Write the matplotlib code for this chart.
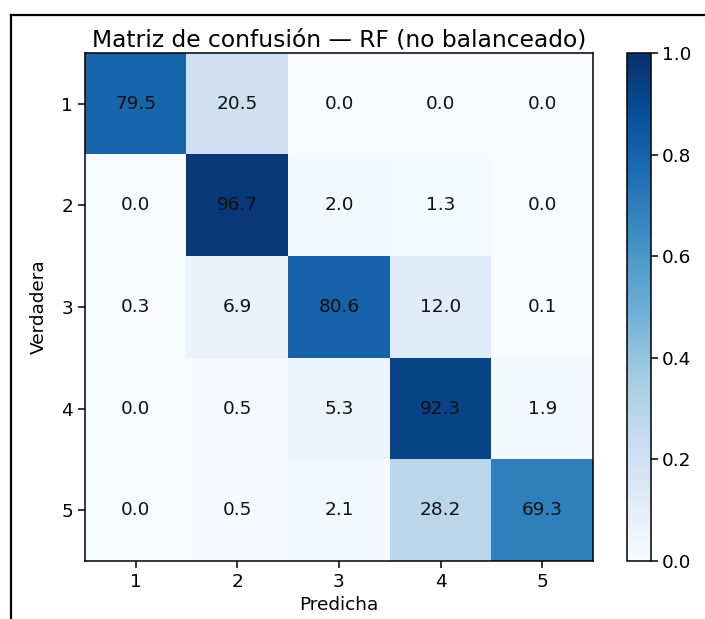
import numpy as np
import matplotlib
matplotlib.use("Agg")
import matplotlib.pyplot as plt
from matplotlib.lines import Line2D

# Row-normalised confusion matrix (percent), rows = true, cols = predicted
clases = ["1", "2", "3", "4", "5"]
fila_1 = [79.5, 20.5, 0.0, 0.0, 0.0]
fila_2 = [0.0, 96.7, 2.0, 1.3, 0.0]
fila_3 = [0.3, 6.9, 80.6, 12.0, 0.1]
fila_4 = [0.0, 0.5, 5.3, 92.3, 1.9]
fila_5 = [0.0, 0.5, 2.1, 28.2, 69.3]
cbar_ticks = [0.0, 0.2, 0.4, 0.6, 0.8, 1.0]

cm = np.array([fila_1, fila_2, fila_3, fila_4, fila_5]) / 100.0

fig = plt.figure(figsize=(7.05, 6.19), dpi=100)
ax = fig.add_axes([85 / 705, 1 - 561 / 619, 508 / 705, 508 / 619])
cax = fig.add_axes([627 / 705, 1 - 561 / 619, 24 / 705, 508 / 619])

im = ax.imshow(cm, cmap="Blues", vmin=0, vmax=1, aspect="auto")
cb = fig.colorbar(im, cax=cax, ticks=cbar_ticks)
cb.ax.tick_params(labelsize=13.3, width=1.1, length=5, pad=3)
cb.outline.set_linewidth(1.1)

for i in range(cm.shape[0]):
    for j in range(cm.shape[1]):
        ax.text(j, i, f"{cm[i, j] * 100:.1f}", ha="center", va="center",
                color="#111111", fontsize=13.3)

ax.set_xticks(range(len(clases)))
ax.set_xticklabels(clases)
ax.set_yticks(range(len(clases)))
ax.set_yticklabels(clases)
ax.tick_params(labelsize=13.3, width=1.1, length=5)
for s in ax.spines.values():
    s.set_linewidth(1.1)

ax.set_xlabel("Predicha", fontsize=13.3, labelpad=4)
ax.set_ylabel("Verdadera", fontsize=13.3, labelpad=10)
ax.set_title("Matriz de confusión — RF (no balanceado)", fontsize=16.8, pad=5)

# screenshot frame (left and top edges)
fig.add_artist(Line2D([11 / 705, 11 / 705], [0, 1 - 15 / 619], color="black", lw=1.6,
                      transform=fig.transFigure))
fig.add_artist(Line2D([11 / 705, 1], [1 - 15 / 619, 1 - 15 / 619], color="black", lw=1.6,
                      transform=fig.transFigure))

fig.savefig("out.png", dpi=100)
